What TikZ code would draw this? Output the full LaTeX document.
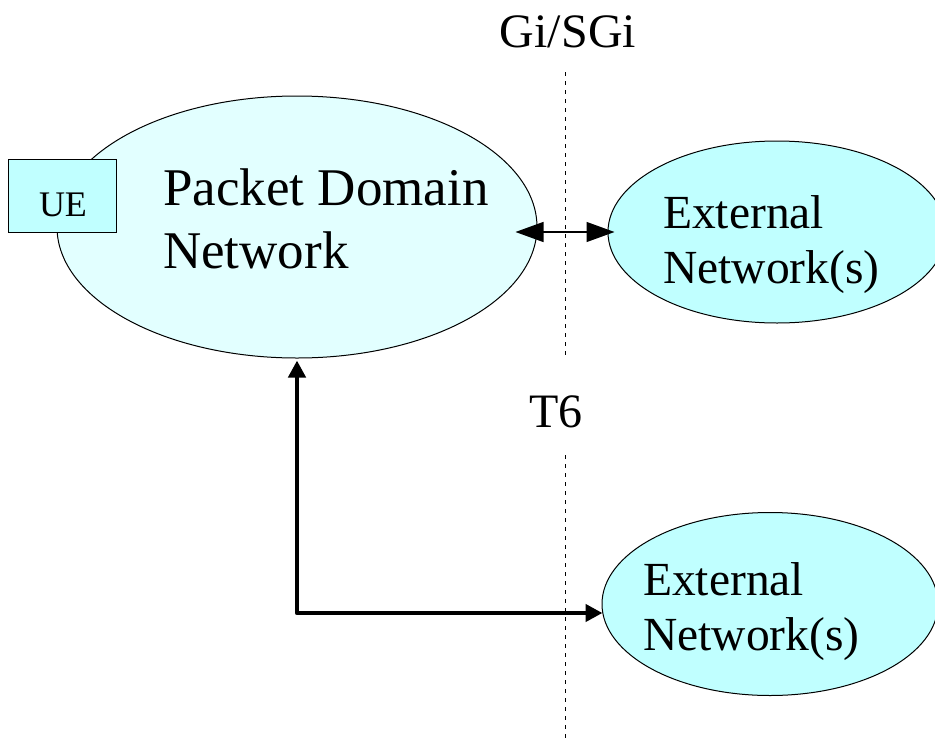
\documentclass[tikz,border=0pt]{standalone}
\usepackage{fontspec}
\setmainfont{Liberation Serif}
\usetikzlibrary{shapes.geometric,arrows.meta}
\definecolor{pdfill}{HTML}{E2FFFF}
\definecolor{extfill}{HTML}{C0FFFF}
\tikzset{
  netell/.style={ellipse,draw=black,line width=1pt,inner sep=0pt},
  txt/.style={inner sep=0pt,anchor=base west,align=left},
  ifline/.style={line width=1pt,dash pattern=on 4pt off 5pt},
  thinarrow/.style={line width=1.3pt,{Triangle[length=28pt,width=20pt]}-{Triangle[length=28pt,width=20pt]}},
  thickarrow/.style={line width=4.5pt,line join=round,{Triangle[length=17pt,width=17pt]}-{Triangle[length=17pt,width=17pt]}},
}
\begin{document}
\begin{tikzpicture}[x=1pt,y=-1pt]
\useasboundingbox (0,0) rectangle (935,742);
% interface lines
\coordinate (g1) at (565,72);
\coordinate (g2) at (565,358);
\coordinate (t1) at (565,455);
\coordinate (t2) at (565,742);
\draw[ifline] (g1) -- (g2);
\draw[ifline] (t1) -- (t2);
% networks
\node[netell,fill=pdfill,minimum width=480pt,minimum height=262pt] (pdn) at (297,227) {};
\node[netell,fill=extfill,minimum width=338pt,minimum height=182pt] (ext1) at (777,232) {};
\node[netell,fill=extfill,minimum width=336pt,minimum height=183pt] (ext2) at (770,604) {};
\node[draw=black,line width=1pt,fill=extfill,minimum width=108pt,minimum height=73pt,inner sep=0pt] (ue) at (62,195.5) {};
% texts
\node[txt,font=\fontsize{36}{40}\selectfont,anchor=base] (uetxt) at (63,216) {UE};
\node[txt,font=\fontsize{53}{63}\selectfont] (pdntxt) at (163,268) {Packet Domain\\Network};
\node[txt,font=\fontsize{47.5}{55}\selectfont] (ext1txt) at (663,283) {External\\Network(s)};
\node[txt,font=\fontsize{47.5}{55}\selectfont] (ext2txt) at (643,650) {External\\Network(s)};
\node[txt,font=\fontsize{48}{55}\selectfont,anchor=base] (gi) at (568,47) {Gi/SGi};
\node[txt,font=\fontsize{48}{55}\selectfont,anchor=base] (t6) at (556,427) {T6};
% connectors
\draw[thinarrow] ([xshift=-22pt,yshift=-5pt]pdn.east) -- ([xshift=7pt]ext1.west);
\draw[thickarrow] ([yshift=-2pt]pdn.south) |- ([xshift=1pt,yshift=-9pt]ext2.west);
\end{tikzpicture}
\end{document}
